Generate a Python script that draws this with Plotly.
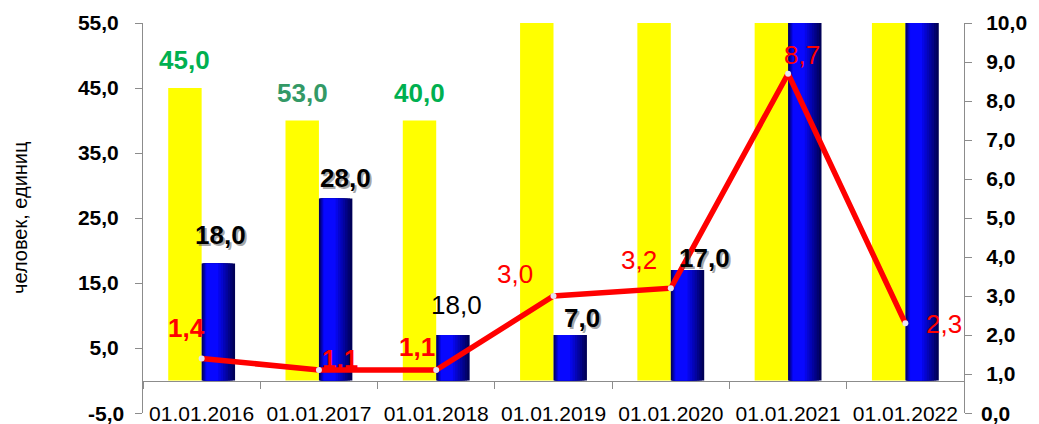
import plotly.graph_objects as go

# ---------------- data ----------------
categories = ["01.01.2016", "01.01.2017", "01.01.2018", "01.01.2019",
              "01.01.2020", "01.01.2021", "01.01.2022"]
yellow_values = [45.0, 40.0, 40.0, 60.0, 60.0, 60.0, 60.0]   # last four run off the top
blue_values = [18.0, 28.0, 7.0, 7.0, 17.0, 60.0, 60.0]       # last two run off the top
line_values = [1.4, 1.1, 1.1, 3.0, 3.2, 8.7, 2.3]

yellow_labels = ["45,0", "53,0", "40,0", "", "", "", ""]
blue_labels = ["18,0", "28,0", "18,0", "7,0", "17,0", "", ""]
line_labels = ["1,4", "1,1", "1,1", "3,0", "3,2", "8,7", "2,3"]

left_ticks = [-5, 5, 15, 25, 35, 45, 55]
left_tick_text = ["-5,0", "5,0", "15,0", "25,0", "35,0", "45,0", "55,0"]
right_ticks = [0, 1, 2, 3, 4, 5, 6, 7, 8, 9, 10]
right_tick_text = ["0,0", "1,0", "2,0", "3,0", "4,0", "5,0", "6,0", "7,0", "8,0", "9,0", "10,0"]

# ---------------- styling ----------------
FONT = "Liberation Sans, Arial, sans-serif"
BAR_W = 0.285
yellow_label_colors = ["#00b050", "#339966", "#00b050"]
yellow_label_off = [(0, -28), (0, -28), (0, -28)]
blue_label_off = [(2, -29), (10, -21), (4, -30), (12, -17), (17, -12)]
blue_label_bold = [True, True, False, True, True]
line_label_off = [(-15, -30), (21, -11), (-19, -23), (-39, -22), (-32, -28), (14, -19), (39, 1)]
line_label_bold = [True, True, True, False, False, False, False]
TICKFONT = dict(family=FONT, size=21, color="#000000", weight="bold")

fig = go.Figure()

# yellow bars
fig.add_trace(go.Bar(x=categories, y=yellow_values, width=BAR_W, offset=-BAR_W,
                     marker=dict(color="#ffff00", line=dict(width=0)),
                     hoverinfo="skip", showlegend=False))

# blue bars with a horizontal gradient made of stacked layers
N = 8
dark = (0, 0, 0x58)
bright = (0x08, 0x08, 0xff)
for k in range(N):
    s = k / (N - 1)
    a = 0.14 * s
    b = 1 - 0.5 * s
    col = tuple(int(dark[j] + (bright[j] - dark[j]) * s) for j in range(3))
    fig.add_trace(go.Bar(x=categories, y=blue_values,
                         width=BAR_W * (b - a), offset=BAR_W * a,
                         marker=dict(color="rgb(%d,%d,%d)" % col, line=dict(width=0)),
                         hoverinfo="skip", showlegend=False))

# red line on secondary axis
fig.add_trace(go.Scatter(x=categories, y=line_values, yaxis="y2", mode="lines+markers",
                         line=dict(color="#ff0000", width=5.5),
                         marker=dict(size=6, color="#e4e4f0", line=dict(width=0)),
                         hoverinfo="skip", showlegend=False, cliponaxis=False))

ann = []
px_per_cat = 117
bar_px = BAR_W * px_per_cat

# yellow labels
for i, t in enumerate(yellow_labels):
    if not t:
        continue
    dx, dy = yellow_label_off[i]
    ann.append(dict(x=categories[i], y=yellow_values[i], xref="x", yref="y",
                    text="<b>%s</b>" % t, showarrow=False,
                    xanchor="center", yanchor="middle",
                    xshift=-bar_px / 2 + dx, yshift=-dy,
                    font=dict(family=FONT, size=26, color=yellow_label_colors[i])))

# blue labels (with shadow when bold)
for i, t in enumerate(blue_labels):
    if not t:
        continue
    dx, dy = blue_label_off[i]
    bold = blue_label_bold[i]
    txt = "<b>%s</b>" % t if bold else t
    if bold:
        ann.append(dict(x=categories[i], y=blue_values[i], xref="x", yref="y",
                        text=txt, showarrow=False, xanchor="center", yanchor="middle",
                        xshift=bar_px / 2 + dx + 2, yshift=-dy - 2,
                        font=dict(family=FONT, size=26, color="rgba(90,90,90,0.55)")))
    ann.append(dict(x=categories[i], y=blue_values[i], xref="x", yref="y",
                    text=txt, showarrow=False, xanchor="center", yanchor="middle",
                    xshift=bar_px / 2 + dx, yshift=-dy,
                    font=dict(family=FONT, size=26, color="#000000")))

# line labels
for i, t in enumerate(line_labels):
    dx, dy = line_label_off[i]
    txt = "<b>%s</b>" % t if line_label_bold[i] else t
    ann.append(dict(x=categories[i], y=line_values[i], xref="x", yref="y2",
                    text=txt, showarrow=False, xanchor="center", yanchor="middle",
                    xshift=dx, yshift=-dy,
                    font=dict(family=FONT, size=26, color="#ff0000")))

# bottom tick labels of both value axes (plotly hides them at the free x-axis corner)
ann.append(dict(x=0, y=left_ticks[0], xref="paper", yref="y", text=left_tick_text[0],
                showarrow=False, xanchor="right", yanchor="middle", xshift=-17,
                font=TICKFONT))
ann.append(dict(x=1, y=right_ticks[0], xref="paper", yref="y2", text=right_tick_text[0],
                showarrow=False, xanchor="left", yanchor="middle", xshift=15,
                font=TICKFONT))

# y-axis title
ann.append(dict(x=0, y=0.5, xref="paper", yref="paper", text="человек, единиц",
                textangle=-90, showarrow=False, xanchor="center", yanchor="middle",
                xshift=-123, font=dict(family=FONT, size=20, color="#000000")))

fig.update_layout(
    width=1039, height=424,
    margin=dict(l=143, r=75, t=23, b=11, autoexpand=False),
    paper_bgcolor="white", plot_bgcolor="white",
    barmode="overlay",
    separators=", ",
    font=dict(family=FONT, color="#000000"),
    annotations=ann,
    xaxis=dict(type="category", range=[-0.5, 6.5], anchor="free", position=5 / 60,
               showline=True, linecolor="#8c8c8c", linewidth=1,
               ticks="outside", tickson="boundaries", ticklen=7, tickcolor="#8c8c8c",
               tickfont=dict(family=FONT, size=21, color="#000000"),
               ticklabelstandoff=14, showgrid=False, zeroline=False, automargin=False),
    yaxis=dict(range=[-5, 55], tickvals=left_ticks, ticktext=left_tick_text,
               showline=True, linecolor="#8c8c8c", linewidth=1,
               ticks="outside", ticklen=7, tickcolor="#8c8c8c",
               tickfont=TICKFONT,
               ticklabelstandoff=12, showgrid=False, zeroline=False, automargin=False),
    yaxis2=dict(range=[0, 10], tickvals=right_ticks, ticktext=right_tick_text,
                overlaying="y", side="right", anchor="x",
                showline=True, linecolor="#8c8c8c", linewidth=1,
                ticks="outside", ticklen=7, tickcolor="#8c8c8c",
                tickfont=TICKFONT,
                ticklabelstandoff=10, showgrid=False, zeroline=False, automargin=False),
)

fig.write_html("out.html", config={"displayModeBar": False},
               post_script="document.body.style.margin='0';document.body.style.overflow='hidden';")
